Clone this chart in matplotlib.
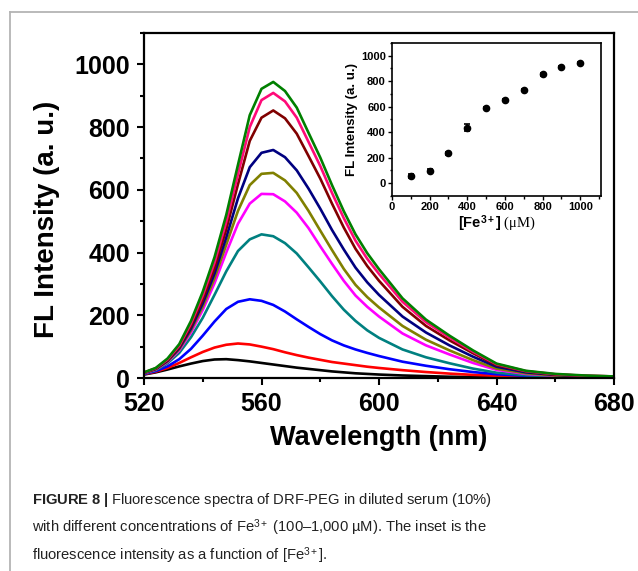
import matplotlib
matplotlib.use("Agg")
import matplotlib.pyplot as plt
from matplotlib.lines import Line2D
from matplotlib.ticker import MultipleLocator

plt.rcParams["font.family"] = ["Liberation Sans", "DejaVu Sans"]
plt.rcParams["mathtext.fontset"] = "custom"
plt.rcParams["mathtext.rm"] = "Liberation Serif"
plt.rcParams["mathtext.sf"] = "Liberation Sans"
plt.rcParams["mathtext.bf"] = "Liberation Sans:bold"
plt.rcParams["mathtext.it"] = "Liberation Serif:italic"

# emission spectra (wavelength in nm, intensity a.u.)
wavelength = [520, 524, 528, 532, 536, 540, 544, 548, 552, 556, 560, 564, 568, 572, 576,
              580, 584, 588, 592, 596, 600, 608, 616, 624, 632, 640, 650, 660, 670, 680]

fl_100 = [11, 18, 27, 37, 46, 54, 59, 60, 57, 53, 48, 43, 38, 33, 29,
          25, 21, 18, 15, 13, 11, 8, 6, 4, 3, 2, 1, 1, 1, 1]
fl_200 = [12, 20, 32, 48, 66, 83, 97, 106, 110, 107, 100, 92, 82, 73, 65,
          58, 51, 46, 41, 36, 32, 25, 19, 14, 10, 7, 4, 3, 2, 1]
fl_300 = [13, 22, 37, 60, 93, 135, 180, 220, 243, 251, 246, 233, 212, 187, 163,
          140, 120, 104, 91, 80, 70, 52, 39, 28, 19, 12, 7, 4, 3, 2]
fl_400 = [14, 25, 47, 80, 130, 192, 265, 340, 405, 442, 458, 452, 430, 397, 353,
          308, 261, 218, 182, 152, 128, 91, 66, 47, 30, 17, 9, 5, 4, 3]
fl_500 = [15, 27, 51, 88, 145, 217, 302, 400, 492, 556, 587, 586, 563, 527, 478,
          420, 364, 310, 263, 227, 196, 142, 104, 75, 48, 26, 13, 7, 5, 3]
fl_600 = [16, 28, 53, 92, 152, 228, 318, 425, 533, 615, 651, 654, 630, 590, 533,
          470, 408, 348, 297, 258, 225, 166, 122, 88, 57, 30, 15, 8, 5, 4]
fl_700 = [16, 29, 55, 95, 158, 238, 333, 448, 573, 672, 718, 727, 704, 662, 604,
          540, 472, 410, 352, 305, 265, 196, 145, 104, 68, 36, 18, 10, 6, 4]
fl_800 = [17, 30, 57, 99, 166, 250, 350, 474, 618, 756, 830, 853, 828, 779, 708,
          636, 556, 480, 412, 357, 310, 227, 166, 120, 79, 41, 21, 11, 7, 5]
fl_900 = [17, 31, 59, 103, 174, 263, 368, 498, 650, 800, 886, 909, 882, 830, 753,
          676, 590, 510, 438, 380, 332, 243, 178, 129, 84, 44, 22, 12, 7, 5]
fl_1000 = [18, 32, 62, 108, 182, 275, 385, 520, 680, 838, 922, 944, 915, 862, 782,
           703, 615, 532, 458, 398, 347, 254, 186, 135, 88, 46, 23, 13, 8, 5]

spectra = [fl_100, fl_200, fl_300, fl_400, fl_500, fl_600, fl_700, fl_800, fl_900, fl_1000]
colors = ["#000000", "#ff0000", "#0000ff", "#008080", "#ff00ff",
          "#808000", "#000080", "#800000", "#ff0a78", "#008000"]

# inset: peak intensity vs Fe3+ concentration
conc = [100, 200, 300, 400, 500, 600, 700, 800, 900, 1000]
peak = [57, 98, 234, 437, 592, 656, 728, 853, 911, 945]
peak_err = [18, 12, 15, 24, 8, 8, 8, 8, 8, 8]

fig = plt.figure(figsize=(6.38, 5.71), dpi=100)

# grey frame of the figure panel
fig.add_artist(Line2D([10 / 638, 10 / 638], [0, 1 - 12 / 571], color="#b4b4b4", lw=1.3))
fig.add_artist(Line2D([10 / 638, 1], [1 - 12 / 571, 1 - 12 / 571], color="#b4b4b4", lw=1.3))

ax = fig.add_axes([144 / 638, 1 - 378 / 571, 470 / 638, 345 / 571])
for y, c in zip(spectra, colors):
    ax.plot(wavelength, y, color=c, lw=1.9, solid_capstyle="round", solid_joinstyle="round")

ax.set_xlim(520, 680)
ax.set_ylim(0, 1100)
ax.xaxis.set_major_locator(MultipleLocator(40))
ax.xaxis.set_minor_locator(MultipleLocator(20))
ax.yaxis.set_major_locator(MultipleLocator(200))
ax.yaxis.set_minor_locator(MultipleLocator(100))
ax.tick_params(which="both", direction="out", width=1.5, top=False, right=False)
ax.tick_params(which="major", length=5, pad=5, labelsize=18)
ax.tick_params(which="minor", length=3)
for lab in ax.get_xticklabels() + ax.get_yticklabels():
    lab.set_fontweight("bold")
for s in ax.spines.values():
    s.set_linewidth(1.6)

ax.set_xlabel("Wavelength (nm)", fontsize=19.5, fontweight="bold", va="center")
ax.xaxis.set_label_coords(0.5, (378 - 438) / 345)
ax.set_ylabel("FL Intensity (a. u.)", fontsize=20, fontweight="bold", va="center")
ax.yaxis.set_label_coords((47 - 144) / 470, (378 - 219) / 345)

# inset
ins = fig.add_axes([392 / 638, 1 - 196 / 571, 209 / 638, 153 / 571])
ins.errorbar(conc, peak, yerr=peak_err, fmt="o", color="black", ms=4.5,
             capsize=2.2, elinewidth=1.2, capthick=1.2)
ins.set_xlim(0, 1110)
ins.set_ylim(-100, 1100)
ins.xaxis.set_major_locator(MultipleLocator(200))
ins.xaxis.set_minor_locator(MultipleLocator(100))
ins.yaxis.set_major_locator(MultipleLocator(200))
ins.yaxis.set_minor_locator(MultipleLocator(100))
ins.tick_params(which="both", direction="out", width=1.0, top=False, right=False)
ins.tick_params(which="major", length=3, pad=1.5, labelsize=8)
ins.tick_params(which="minor", length=1.8)
for lab in ins.get_xticklabels() + ins.get_yticklabels():
    lab.set_fontweight("bold")
for s in ins.spines.values():
    s.set_linewidth(1.2)
ins.set_xlabel(r"[Fe$^{\mathbf{3+}}$] $\mathrm{(\mu M)}$", fontsize=10.5, fontweight="bold", labelpad=1)
ins.set_ylabel("FL Intensity (a. u.)", fontsize=9.5, fontweight="bold", labelpad=2)

# caption
cap_x = 32 / 638
cap_size = 10.6
fig.text(cap_x, 1 - 504 / 571,
         r"$\mathbf{FIGURE\ 8\ |}$ Fluorescence spectra of DRF-PEG in diluted serum (10%)",
         fontsize=cap_size, va="baseline", color="#222222")
fig.text(cap_x, 1 - 532 / 571,
         r"with different concentrations of Fe$^{\mathsf{3+}}$ (100–1,000 µM). The inset is the",
         fontsize=cap_size, va="baseline", color="#222222")
fig.text(cap_x, 1 - 560 / 571,
         r"fluorescence intensity as a function of [Fe$^{\mathsf{3+}}$].",
         fontsize=cap_size, va="baseline", color="#222222")

fig.savefig("out.png", dpi=100)
